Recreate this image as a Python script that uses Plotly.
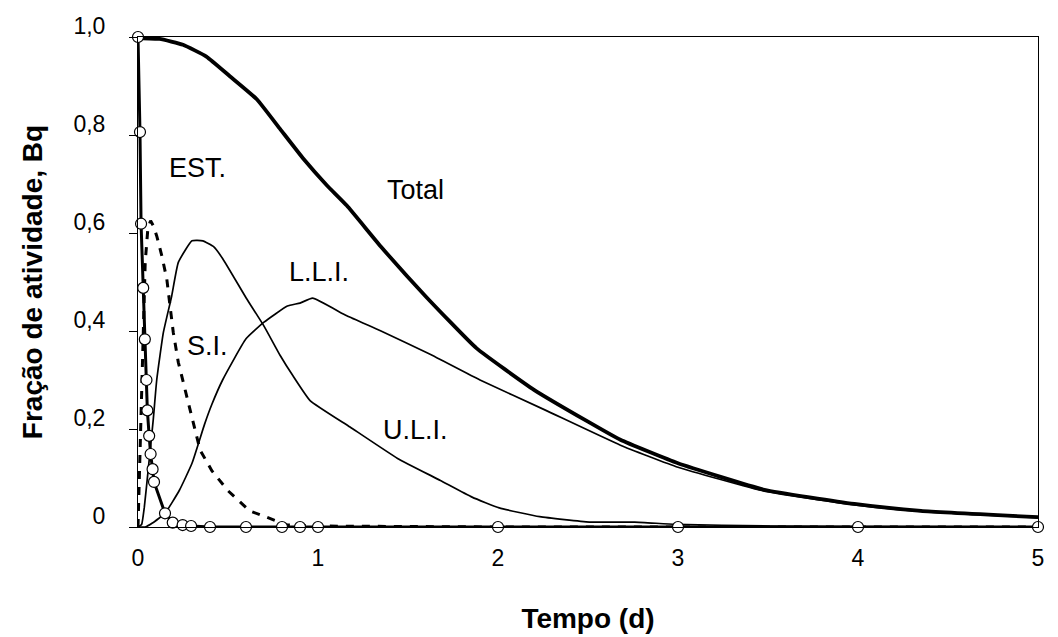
import plotly.graph_objects as go

# ---- data ----
est_t = [0, 0.011, 0.017, 0.029, 0.038, 0.047, 0.052, 0.062, 0.07, 0.081, 0.089,
         0.15, 0.193, 0.248, 0.295, 0.4, 0.6, 0.8, 0.9, 1.0, 2, 3, 4, 5]
est_v = [1.0, 0.806, 0.619, 0.488, 0.383, 0.30, 0.238, 0.186, 0.149, 0.118, 0.092,
         0.028, 0.009, 0.004, 0.002, 0, 0, 0, 0, 0, 0, 0, 0, 0]

si_t = [0, 0.01, 0.02, 0.03, 0.04, 0.055, 0.07, 0.085, 0.104, 0.132, 0.16, 0.178,
        0.196, 0.224, 0.257, 0.289, 0.317, 0.345, 0.41, 0.5, 0.62, 0.75, 0.83, 1.0,
        2, 3, 4, 5]
si_v = [0, 0.15, 0.30, 0.42, 0.54, 0.61, 0.625, 0.615, 0.594, 0.554, 0.506, 0.451,
        0.397, 0.336, 0.288, 0.237, 0.198, 0.157, 0.115, 0.074, 0.033, 0.016, 0.004,
        0.002, 0, 0, 0, 0]

uli_t = [0, 0.02, 0.035, 0.057, 0.085, 0.104, 0.141, 0.187, 0.224, 0.3, 0.36, 0.42,
         0.47, 0.6, 0.7, 0.79, 0.86, 0.956, 1.178, 1.442, 1.68, 1.856, 2.007, 2.232,
         2.508, 2.759, 2.985, 3.5, 4, 5]
uli_v = [0, 0.005, 0.04, 0.118, 0.22, 0.30, 0.397, 0.471, 0.54, 0.584, 0.584, 0.572,
         0.548, 0.468, 0.41, 0.35, 0.309, 0.258, 0.204, 0.14, 0.095, 0.061, 0.039,
         0.021, 0.01, 0.01, 0.0055, 0.002, 0.001, 0]

lli_t = [0, 0.04, 0.08, 0.15, 0.23, 0.3, 0.37, 0.41, 0.47, 0.6, 0.7, 0.83, 0.9, 0.97,
         1.16, 1.35, 1.62, 1.9, 2.26, 2.68, 3.0, 3.48, 3.98, 4.35, 5.0]
lli_v = [0, 0, 0.008, 0.028, 0.075, 0.13, 0.21, 0.25, 0.30, 0.384, 0.418, 0.451,
         0.457, 0.467, 0.431, 0.40, 0.353, 0.30, 0.239, 0.167, 0.122, 0.073, 0.045,
         0.032, 0.019]

tot_t = [0, 0.12, 0.25, 0.38, 0.51, 0.66, 0.79, 0.92, 1.05, 1.16, 1.35, 1.6, 1.88,
         2.2, 2.5, 2.68, 3.0, 3.48, 3.98, 4.35, 5.0]
tot_v = [0.998, 0.996, 0.984, 0.96, 0.92, 0.873, 0.812, 0.751, 0.697, 0.656, 0.572,
         0.47, 0.365, 0.28, 0.215, 0.178, 0.13, 0.076, 0.047, 0.033, 0.02]

y_ticks = [0, 0.2, 0.4, 0.6, 0.8, 1.0]
y_tick_text = ["0", "0,2", "0,4", "0,6", "0,8", "1,0"]
x_ticks = [0, 1, 2, 3, 4, 5]
x_tick_text = ["0", "1", "2", "3", "4", "5"]

labels = ["EST.", "Total", "L.L.I.", "S.I.", "U.L.I."]
label_x = [0.328, 1.54, 1.005, 0.384, 1.542]
label_y = [0.733, 0.688, 0.521, 0.37, 0.198]

FONT = "Liberation Sans, Arial, sans-serif"

fig = go.Figure()
fig.add_trace(go.Scatter(x=uli_t, y=uli_v, mode="lines",
                         line=dict(color="black", width=1.7, shape="spline", smoothing=0.4)))
fig.add_trace(go.Scatter(x=lli_t, y=lli_v, mode="lines",
                         line=dict(color="black", width=1.7, shape="spline", smoothing=0.4)))
fig.add_trace(go.Scatter(x=si_t, y=si_v, mode="lines",
                         line=dict(color="black", width=3, dash="8px,8px")))
fig.add_trace(go.Scatter(x=tot_t, y=tot_v, mode="lines",
                         line=dict(color="black", width=3.8, shape="spline", smoothing=0.4)))
fig.add_trace(go.Scatter(x=est_t, y=est_v, mode="lines+markers", cliponaxis=False,
                         line=dict(color="black", width=3),
                         marker=dict(symbol="circle", size=11, color="white",
                                     line=dict(color="black", width=1.2))))

for txt, x, y in zip(labels, label_x, label_y):
    fig.add_annotation(x=x, y=y, text=txt, showarrow=False,
                       font=dict(family=FONT, size=27, color="black"))

fig.update_layout(
    width=1058, height=637,
    margin=dict(l=138, r=20, t=37, b=110),
    paper_bgcolor="white", plot_bgcolor="white",
    showlegend=False,
    font=dict(family=FONT, color="black"),
)
fig.update_xaxes(range=[0, 5], tickvals=x_ticks, ticktext=x_tick_text,
                 automargin=False,
                 showline=True, linecolor="black", linewidth=1, mirror=True,
                 showgrid=False, zeroline=False, ticks="", ticklabelstandoff=10,
                 tickfont=dict(family=FONT, size=23),
                 title=dict(text="<b>Tempo (d)</b>", standoff=38,
                            font=dict(family=FONT, size=28)))
fig.update_yaxes(range=[0, 1], tickvals=y_ticks, ticktext=y_tick_text,
                 automargin=False,
                 showline=True, linecolor="black", linewidth=1, mirror=True,
                 showgrid=False, zeroline=False, ticks="outside", ticklen=8,
                 tickcolor="black", ticklabelstandoff=19, ticklabelshift=-11,
                 tickfont=dict(family=FONT, size=23),
                 title=dict(text="<b>Fração de atividade, Bq</b>", standoff=22,
                            font=dict(family=FONT, size=28)))

fig.write_html("out.html")
